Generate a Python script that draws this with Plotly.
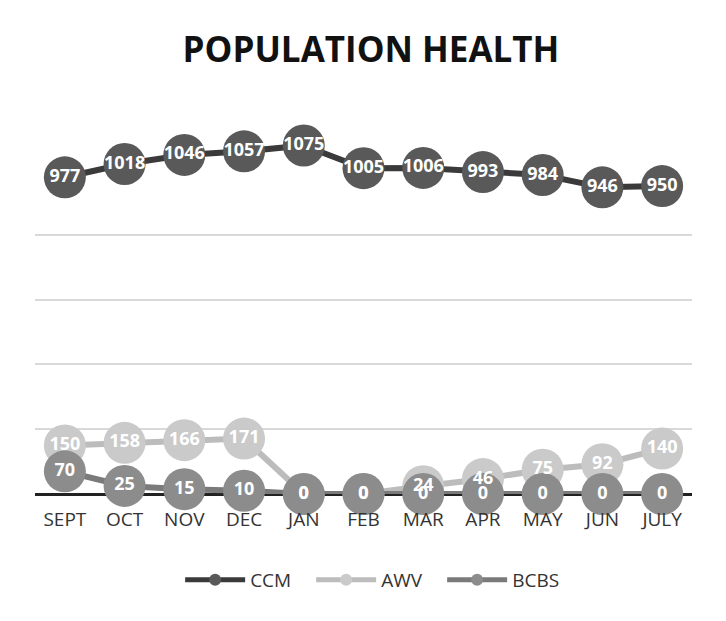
import plotly.graph_objects as go

months = ["SEPT", "OCT", "NOV", "DEC", "JAN", "FEB", "MAR", "APR", "MAY", "JUN", "JULY"]
ccm = [977, 1018, 1046, 1057, 1075, 1005, 1006, 993, 984, 946, 950]
awv = [150, 158, 166, 171, 0, 0, 24, 46, 75, 92, 140]
bcbs = [70, 25, 15, 10, 0, 0, 0, 0, 0, 0, 0]

series = [
    ("CCM", ccm, "#595959", "#3a3a3a"),
    ("AWV", awv, "#cacaca", "#bcbcbc"),
    ("BCBS", bcbs, "#8c8c8c", "#7a7a7a"),
]

fig = go.Figure()
for name, vals, mcol, lcol in series:
    fig.add_trace(go.Scatter(
        x=months, y=vals, name=name, mode="lines+markers",
        line=dict(color=lcol, width=6),
        marker=dict(size=42, color=mcol, line=dict(width=0)),
        cliponaxis=False,
    ))
# value labels drawn above all circles
for name, vals, mcol, lcol in [series[0], series[2], series[1]]:
    fig.add_trace(go.Scatter(
        x=months, y=vals, name=name, mode="text", showlegend=False,
        text=[str(v) for v in vals], textposition="middle center",
        textfont=dict(family="Open Sans", size=18, color="white", weight="bold"),
        cliponaxis=False, hoverinfo="skip",
    ))

fig.update_layout(
    width=726, height=621,
    paper_bgcolor="white", plot_bgcolor="white",
    margin=dict(l=27, r=42, t=97, b=135, autoexpand=False),
    title=dict(text="POPULATION HEALTH", x=0.5, xanchor="center",
               yref="container", y=1 - 42 / 621, yanchor="middle",
               font=dict(family="Open Sans", size=35, color="#111111", weight="bold")),
    xaxis=dict(type="category", range=[-0.5, 10.5], showgrid=False, showline=False, zeroline=False,
               tickfont=dict(family="Open Sans", size=19, color="#333333"), ticks="",
               ticklabelstandoff=12),
    yaxis=dict(range=[0, 1200], tickvals=[0, 200, 400, 600, 800], showticklabels=False,
               showgrid=True, gridcolor="#d9d9d9", gridwidth=1.5,
               zeroline=True, zerolinecolor="#222222", zerolinewidth=3, showline=False),
    showlegend=True,
    legend=dict(orientation="h", x=0.52, xanchor="center",
                yref="container", y=1 - 572 / 621, yanchor="middle",
                font=dict(family="Open Sans", size=19, color="#333333"),
                itemwidth=60, itemsizing="constant",
                entrywidth=56, entrywidthmode="pixels"),
)

fig.write_html("out.html")
